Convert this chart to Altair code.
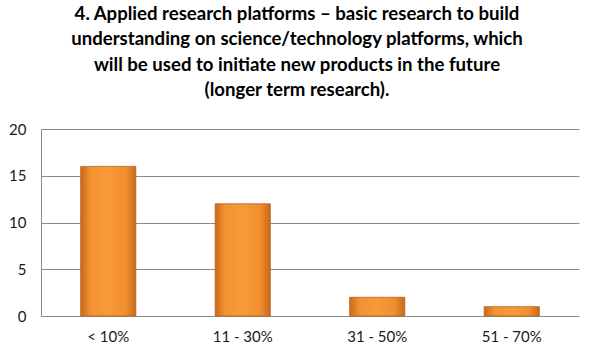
import altair as alt
import pandas as pd

categories = ["< 10%", "11 - 30%", "31 - 50%", "51 - 70%"]
values = [16, 12, 2, 1]
y_ticks = [0, 5, 10, 15, 20]
title_lines = [
    "4. Applied research platforms \u2013 basic research to build",
    "understanding on science/technology platforms, which",
    "will be used to initiate new products in the future",
    "(longer term research).",
]

df = pd.DataFrame({"category": categories, "value": values})

grad = alt.LinearGradient(
    gradient="linear",
    stops=[
        alt.GradientStop(color="#C9691A", offset=0),
        alt.GradientStop(color="#F39232", offset=0.18),
        alt.GradientStop(color="#F8993A", offset=0.5),
        alt.GradientStop(color="#F08E2E", offset=0.82),
        alt.GradientStop(color="#C9691A", offset=1),
    ],
    x1=0, x2=1, y1=0, y2=0,
)

chart = (
    alt.Chart(df)
    .mark_bar(color=grad, stroke="#B8621C", strokeWidth=0.8)
    .encode(
        x=alt.X(
            "category:N",
            sort=categories,
            title=None,
            scale=alt.Scale(paddingInner=0.59, paddingOuter=0.295),
            axis=alt.Axis(
                labelAngle=0, ticks=False, domain=False,
                labelFont="Lato", labelFontSize=15, labelColor="#1a1a1a",
                labelPadding=13,
            ),
        ),
        y=alt.Y(
            "value:Q",
            title=None,
            scale=alt.Scale(domain=[0, 20], nice=False),
            axis=alt.Axis(
                values=y_ticks, ticks=False, domain=True, domainColor="#8a8a8a",
                gridColor="#8a8a8a", gridWidth=1,
                labelFont="Lato", labelFontSize=15, labelColor="#1a1a1a",
                labelPadding=15,
            ),
        ),
    )
    .properties(
        width=538,
        height=187,
        autosize=alt.AutoSizeParams(type="none"),
        padding={"left": 41, "top": 129, "right": 16, "bottom": 39},
        title=alt.TitleParams(
            text=title_lines,
            font="Lato",
            fontSize=18.6,
            fontWeight="bold",
            color="#000000",
            anchor="middle",
            dx=-13,
            offset=22,
            lineHeight=25.5,
        ),
    )
    .configure_view(stroke=None)
)

chart.save("out.html", embed_options={"renderer": "svg", "actions": False})
